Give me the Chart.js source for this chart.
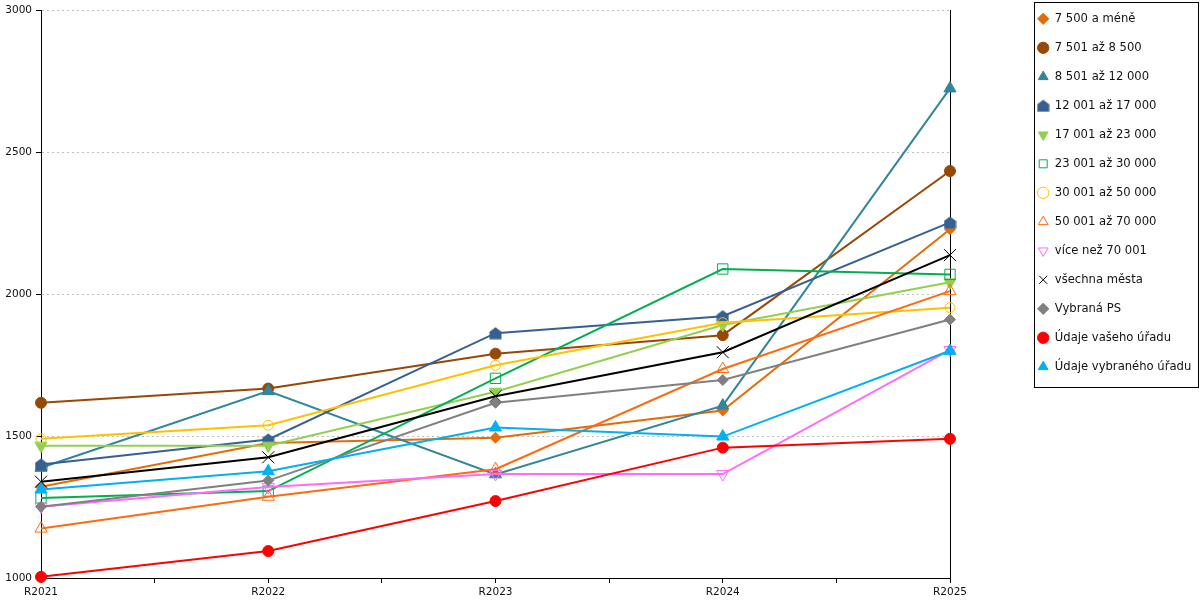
<!DOCTYPE html>
<html>
<head>
<meta charset="utf-8">
<script src="https://cdn.jsdelivr.net/npm/chart.js@4.4.0/dist/chart.umd.min.js"></script>
<style>
  html, body { margin: 0; padding: 0; background: #fff; }
  #wrap { width: 1200px; height: 600px; }
</style>
</head>
<body>
<div id="wrap"><canvas id="chart"></canvas></div>
<script>
// chart data
const years = ['R2021', 'R2022', 'R2023', 'R2024', 'R2025'];
const yTicks = [1000, 1500, 2000, 2500, 3000];

const s7500 = [1321, 1475, 1494, 1590, 2228];
const s8500 = [1617, 1667, 1790, 1855, 2433];
const s12000 = [1388, 1658, 1365, 1607, 2724];
const s17000 = [1400, 1488, 1862, 1922, 2252];
const s23000 = [1466, 1466, 1656, 1891, 2041];
const s30000 = [1282, 1306, 1703, 2088, 2069];
const s50000 = [1490, 1538, 1749, 1899, 1952];
const s70000 = [1174, 1286, 1383, 1736, 2010];
const sOver70 = [1251, 1320, 1366, 1366, 1803];
const sAllCities = [1339, 1425, 1640, 1795, 2137];
const sSelectedPS = [1251, 1343, 1617, 1697, 1910];
const sYourOffice = [1004, 1095, 1271, 1459, 1490];
const sSelectedOffice = [1312, 1376, 1530, 1498, 1800];

const seriesNames = [
  '7 500 a méně', '7 501 až 8 500', '8 501 až 12 000', '12 001 až 17 000',
  '17 001 až 23 000', '23 001 až 30 000', '30 001 až 50 000', '50 001 až 70 000',
  'více než 70 001', 'všechna města', 'Vybraná PS', 'Údaje vašeho úřadu', 'Údaje vybraného úřadu'
];
const seriesValues = [
  s7500, s8500, s12000, s17000, s23000, s30000, s50000, s70000,
  sOver70, sAllCities, sSelectedPS, sYourOffice, sSelectedOffice
];

// little "house" marker for 12 001 až 17 000
function houseMarker(color) {
  const c = document.createElement('canvas');
  c.width = 13; c.height = 13;
  const g = c.getContext('2d');
  g.fillStyle = color;
  g.beginPath();
  g.moveTo(6.5, 0.5);
  g.lineTo(12.5, 5);
  g.lineTo(12.5, 12.5);
  g.lineTo(0.5, 12.5);
  g.lineTo(0.5, 5);
  g.closePath();
  g.fill();
  return c;
}

// marker / colour per series
const styles = [
  { color: '#E36C09', point: 'rectRot', r: 5.5, fill: true },
  { color: '#974806', point: 'circle', r: 5.5, fill: true },
  { color: '#31859C', point: 'triangle', r: 7, fill: true },
  { color: '#376092', point: houseMarker('#376092'), r: 6, fill: true },
  { color: '#92D050', point: 'triangle', r: 7, fill: true, rot: 180 },
  { color: '#00B050', point: 'rect', r: 7.3, fill: false },
  { color: '#FFC000', point: 'circle', r: 5, fill: false },
  { color: '#FF6A10', point: 'triangle', r: 7, fill: false },
  { color: '#FF6BFF', point: 'triangle', r: 7, fill: false, rot: 180 },
  { color: '#000000', point: 'crossRot', r: 8.5, fill: false },
  { color: '#808080', point: 'rectRot', r: 5.5, fill: true },
  { color: '#FF0000', point: 'circle', r: 5.5, fill: true },
  { color: '#00B0F0', point: 'triangle', r: 7, fill: true }
];

const datasets = seriesValues.map((vals, i) => {
  const st = styles[i];
  return {
    label: seriesNames[i],
    data: vals.map((v, j) => ({ x: j, y: v })),
    borderColor: st.color,
    backgroundColor: st.color,
    borderWidth: 2,
    pointStyle: st.point,
    pointRadius: st.r,
    pointHoverRadius: st.r,
    pointRotation: st.rot || 0,
    pointBackgroundColor: st.fill ? st.color : 'transparent',
    pointBorderColor: st.color,
    pointBorderWidth: 1,
    tension: 0,
    fill: false,
    clip: false,
    order: -i
  };
});

// legend sits at a fixed place, with a thin frame round it
const legendFrame = {
  id: 'legendFrame',
  afterLayout(chart) {
    const lg = chart.legend;
    const w = lg.width;
    lg.left = 1020; lg.right = 1020 + w;
    lg.top = -4.4; lg.bottom = 596;
  },
  afterDraw(chart) {
    const boxes = chart.legend.legendHitBoxes;
    if (!boxes || !boxes.length) return;
    const first = boxes[0], last = boxes[boxes.length - 1];
    const x = Math.round(first.left - 3) + 0.5;
    const y = Math.round(first.top - 11) + 0.5;
    const b = Math.round(last.top + last.height + 14) + 0.5;
    const ctx = chart.ctx;
    ctx.save();
    ctx.strokeStyle = '#000';
    ctx.lineWidth = 1;
    ctx.strokeRect(x, y, 1198.5 - x, b - y);
    ctx.restore();
  }
};

Chart.defaults.font.family = '"DejaVu Sans", sans-serif';
Chart.defaults.color = '#111';

new Chart(document.getElementById('chart'), {
  type: 'line',
  data: { datasets: datasets },
  options: {
    responsive: true,
    maintainAspectRatio: false,
    animation: false,
    layout: { padding: 0 },
    plugins: {
      tooltip: { enabled: false },
      legend: {
        position: 'right',
        align: 'start',
        labels: {
          usePointStyle: true,
          boxHeight: 8,
          padding: 17.4,
          color: '#111',
          font: { size: 11.6 },
          sort: (a, b) => a.datasetIndex - b.datasetIndex
        }
      }
    },
    scales: {
      x: {
        type: 'linear',
        min: 0,
        max: years.length - 1,
        afterBuildTicks: (scale) => {
          const t = [];
          for (let v = 0; v <= years.length - 1; v += 0.5) t.push({ value: v });
          scale.ticks = t;
        },
        afterFit: (scale) => { scale.paddingRight = 250; scale.height = 22; },
        ticks: {
          autoSkip: false,
          maxRotation: 0,
          padding: 3,
          color: '#111',
          font: { size: 10.5 },
          callback: (v) => Number.isInteger(v) ? years[v] : ''
        },
        grid: {
          color: (ctx) => ctx.tick && ctx.tick.value === years.length - 1 ? '#000' : 'transparent',
          tickColor: '#000',
          tickLength: 5
        },
        border: { color: '#000', width: 1 }
      },
      y: {
        min: yTicks[0],
        max: yTicks[yTicks.length - 1],
        afterBuildTicks: (scale) => { scale.ticks = yTicks.map(v => ({ value: v })); },
        afterFit: (scale) => { scale.width = 41; scale.paddingTop = 10; },
        ticks: {
          padding: 4,
          color: '#111',
          font: { size: 10.5 },
          callback: (v) => String(v)
        },
        grid: {
          color: (ctx) => ctx.tick && ctx.tick.value === yTicks[0] ? 'transparent' : '#C0C0C0',
          tickColor: '#000',
          tickLength: 5
        },
        border: { color: '#000', width: 1, dash: [2, 3] }
      }
    }
  },
  plugins: [legendFrame]
});
</script>
</body>
</html>
